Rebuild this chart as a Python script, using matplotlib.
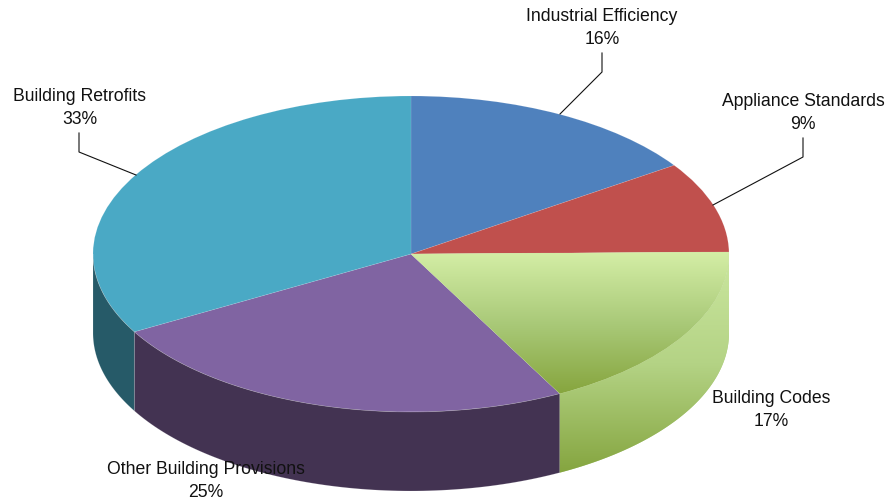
import numpy as np
import matplotlib
matplotlib.use('Agg')
import matplotlib.pyplot as plt
from matplotlib.colors import LinearSegmentedColormap
from matplotlib.patches import Polygon

plt.rcParams['font.family'] = ['Liberation Sans', 'DejaVu Sans']

names = ['Industrial Efficiency', 'Appliance Standards', 'Building Codes',
         'Other Building Provisions', 'Building Retrofits']
values = [15.51, 9.29, 17.45, 24.55, 33.2]
top_colors = ['#4f81bd', '#c0504d', '#c3e095', '#8064a2', '#4aa9c5']
wall_colors = ['#2f4d71', '#73302e', '#a8c878', '#433352', '#265a68']

# pie geometry in pixels
W, H = 889, 501
cx, cy, rx, ry, depth = 411, 254, 318, 158, 79

fig = plt.figure(figsize=(W / 100, H / 100), dpi=100)
ax = fig.add_axes([0, 0, 1, 1])

wedges, _ = ax.pie(values, colors=top_colors, startangle=90, counterclock=False, radius=1,
                   wedgeprops={'edgecolor': '#ffffff22', 'linewidth': 0.5})
ax.set_aspect('auto')
wedges[2].set_zorder(3)

# side walls, only the front half of the ellipse can be seen
d = depth / ry
edges = np.concatenate([[0], np.cumsum(values)]) / sum(values) * 360
for i in range(len(values)):
    lo, hi = max(edges[i], 90), min(edges[i + 1], 270)
    if lo >= hi:
        continue
    t = np.radians(np.linspace(lo, hi, 80))
    xs, ys = np.sin(t), np.cos(t)
    px = np.concatenate([xs, xs[::-1]])
    py = np.concatenate([ys, ys[::-1] - d])
    wall = Polygon(np.column_stack([px, py]), closed=True, facecolor=wall_colors[i],
                   edgecolor='#ffffff33', linewidth=0.5, zorder=1)
    ax.add_patch(wall)
    if i == 2:
        cm = LinearSegmentedColormap.from_list('wall', ['#cbe79f', '#b4d385', '#84a43e'])
        g = np.linspace(0, 1, 256)[:, None]
        im = ax.imshow(g, cmap=cm, extent=(0, 1.1, -1.4, 0.01), origin='upper',
                       aspect='auto', zorder=1.5)
        im.set_clip_path(wall)

# green top has a vertical gradient
cm = LinearSegmentedColormap.from_list('top', ['#d4eea6', '#a9c978', '#85a43c'])
g = np.linspace(0, 1, 256)[:, None]
im = ax.imshow(g, cmap=cm, extent=(0, 1.1, -0.9, 0.01), origin='upper', aspect='auto', zorder=3.5)
im.set_clip_path(wedges[2])

ax.set_xlim(-cx / rx, (W - cx) / rx)
ax.set_ylim((cy - H) / ry, cy / ry)
ax.axis('off')

# labels and leader lines, in pixel coordinates
ov = fig.add_axes([0, 0, 1, 1], facecolor='none')
ov.set_xlim(0, W)
ov.set_ylim(H, 0)
ov.axis('off')

label_xy = [(602, 28), (803, 113), (771, 410), (206, 481), (79.5, 108)]
for n, v, (x, y) in zip(names, values, label_xy):
    ov.text(x, y, '%s\n%d%%' % (n, round(v)), ha='center', va='center', fontsize=12.67,
            color='#111111', linespacing=1.42)

leaders = [([602, 602, 560], [53, 72, 114]),
           ([803, 803, 713], [138, 157, 205]),
           ([79, 79, 136], [133, 152, 175])]
for lx, ly in leaders:
    ov.plot(lx, ly, color='#111111', lw=0.8, solid_joinstyle='miter')

fig.savefig('out.png', dpi=100, facecolor='white')
